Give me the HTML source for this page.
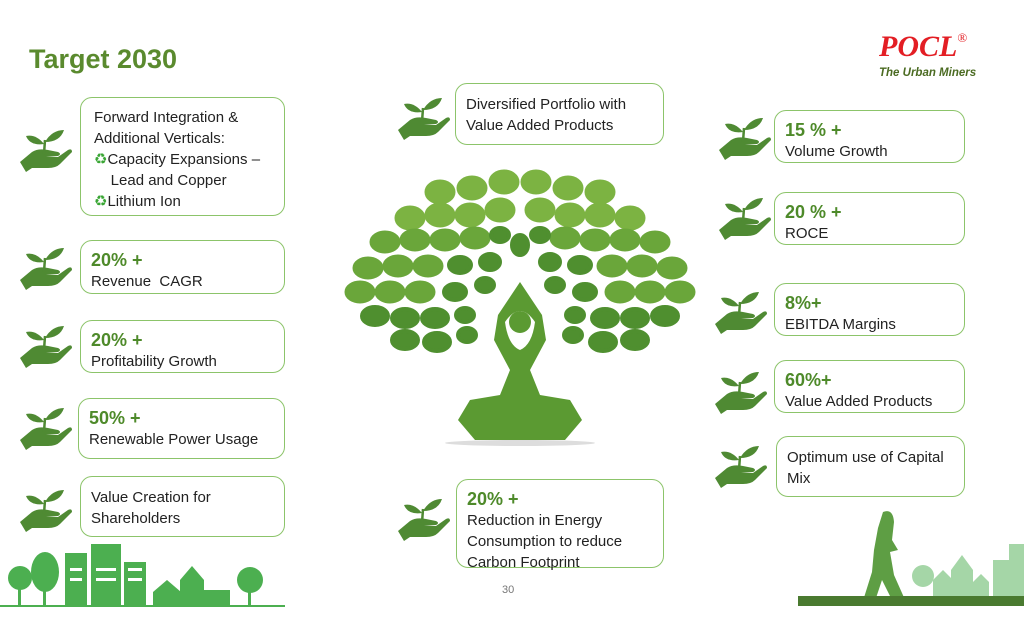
<!DOCTYPE html>
<html><head><meta charset="utf-8"><style>
body{margin:0;width:1024px;height:625px;background:#fff;position:relative;overflow:hidden;font-family:"Liberation Sans",sans-serif;}
.box{position:absolute;border:1.5px solid #8cc46a;border-radius:12px;background:#fff;box-sizing:border-box;font-size:15px;color:#222;line-height:21px;padding:8px 10px;}
.v{color:#4e8a2a;font-weight:bold;font-size:18px;line-height:22px;}
.ic{position:absolute;width:54px;height:44px;}
.r{color:#3aa635;}
</style></head><body>
<svg width="0" height="0" style="position:absolute"><defs>
<g id="hand">
<path d="M2 34 L14 24 Q20 20 30 22 L40 24 Q44 26 40 28 L28 28 L40 29 L50 22 Q54 20 54 24 L42 36 Q38 40 30 40 L14 40 L8 44 Z" fill="#4f8a33"/>
<path d="M26 26 L27 12" stroke="#4f8a33" stroke-width="2.5" fill="none"/>
<path d="M27 14 Q34 2 46 2 Q42 14 27 14Z" fill="#4f8a33"/>
<path d="M26 16 Q18 6 8 8 Q12 18 26 16Z" fill="#4f8a33"/>
</g></defs></svg>

<div style="position:absolute;left:29px;top:44px;font-size:27px;font-weight:bold;color:#5a8a2e;">Target 2030</div>
<div style="position:absolute;left:879px;top:30px;font-family:'Liberation Serif',serif;font-style:italic;font-weight:bold;font-size:30px;color:#e31e24;">POCL<sup style="font-size:13px;font-style:normal;font-weight:normal;vertical-align:14px">®</sup></div>
<div style="position:absolute;left:879px;top:67px;font-size:11.5px;font-style:italic;font-weight:bold;color:#4b6b22;">The Urban Miners</div>

<svg class="ic" style="left:18px;top:128px"><use href="#hand"/></svg>
<svg class="ic" style="left:18px;top:246px"><use href="#hand"/></svg>
<svg class="ic" style="left:18px;top:324px"><use href="#hand"/></svg>
<svg class="ic" style="left:18px;top:406px"><use href="#hand"/></svg>
<svg class="ic" style="left:18px;top:488px"><use href="#hand"/></svg>
<svg class="ic" style="left:396px;top:96px"><use href="#hand"/></svg>
<svg class="ic" style="left:396px;top:497px"><use href="#hand"/></svg>
<svg class="ic" style="left:717px;top:116px"><use href="#hand"/></svg>
<svg class="ic" style="left:717px;top:196px"><use href="#hand"/></svg>
<svg class="ic" style="left:713px;top:290px"><use href="#hand"/></svg>
<svg class="ic" style="left:713px;top:370px"><use href="#hand"/></svg>
<svg class="ic" style="left:713px;top:444px"><use href="#hand"/></svg>

<div class="box" style="left:80px;top:97px;width:205px;height:119px;padding:9px 13px;">Forward Integration &amp;<br>Additional Verticals:<br><span class="r">♻</span>Capacity Expansions –<br>&nbsp;&nbsp;&nbsp;&nbsp;Lead and Copper<br><span class="r">♻</span>Lithium Ion</div>
<div class="box" style="left:80px;top:240px;width:205px;height:54px;"><div class="v">20% +</div>Revenue&nbsp; CAGR</div>
<div class="box" style="left:80px;top:320px;width:205px;height:53px;"><div class="v">20% +</div>Profitability Growth</div>
<div class="box" style="left:78px;top:398px;width:207px;height:61px;"><div class="v">50% +</div>Renewable Power Usage</div>
<div class="box" style="left:80px;top:476px;width:205px;height:61px;padding:10px;">Value Creation for<br>Shareholders</div>
<div class="box" style="left:455px;top:83px;width:209px;height:62px;padding:10px;">Diversified Portfolio with<br>Value Added Products</div>
<div class="box" style="left:456px;top:479px;width:208px;height:89px;"><div class="v">20% +</div>Reduction in Energy<br>Consumption to reduce<br>Carbon Footprint</div>
<div class="box" style="left:774px;top:110px;width:191px;height:53px;"><div class="v">15 % +</div>Volume Growth</div>
<div class="box" style="left:774px;top:192px;width:191px;height:53px;"><div class="v">20 % +</div>ROCE</div>
<div class="box" style="left:774px;top:283px;width:191px;height:53px;"><div class="v">8%+</div>EBITDA Margins</div>
<div class="box" style="left:774px;top:360px;width:191px;height:53px;"><div class="v">60%+</div>Value Added Products</div>
<div class="box" style="left:776px;top:436px;width:189px;height:61px;padding:10px;">Optimum use of Capital<br>Mix</div>

<svg style="position:absolute;left:340px;top:160px" width="360" height="300" viewBox="340 160 360 300">
<g fill="#7cb342" stroke="#7cb342" stroke-width="5">
<ellipse cx="440" cy="192" rx="13" ry="10"/><ellipse cx="472" cy="188" rx="13" ry="10"/><ellipse cx="504" cy="182" rx="13" ry="10"/><ellipse cx="536" cy="182" rx="13" ry="10"/><ellipse cx="568" cy="188" rx="13" ry="10"/><ellipse cx="600" cy="192" rx="13" ry="10"/>
<ellipse cx="410" cy="218" rx="13" ry="10"/><ellipse cx="440" cy="215" rx="13" ry="10"/><ellipse cx="470" cy="215" rx="13" ry="10"/><ellipse cx="500" cy="210" rx="13" ry="10"/><ellipse cx="540" cy="210" rx="13" ry="10"/><ellipse cx="570" cy="215" rx="13" ry="10"/><ellipse cx="600" cy="215" rx="13" ry="10"/><ellipse cx="630" cy="218" rx="13" ry="10"/>
</g>
<g fill="#6aa63a" stroke="#6aa63a" stroke-width="5">
<ellipse cx="385" cy="242" rx="13" ry="9"/><ellipse cx="415" cy="240" rx="13" ry="9"/><ellipse cx="445" cy="240" rx="13" ry="9"/><ellipse cx="475" cy="238" rx="13" ry="9"/><ellipse cx="565" cy="238" rx="13" ry="9"/><ellipse cx="595" cy="240" rx="13" ry="9"/><ellipse cx="625" cy="240" rx="13" ry="9"/><ellipse cx="655" cy="242" rx="13" ry="9"/>
<ellipse cx="368" cy="268" rx="13" ry="9"/><ellipse cx="398" cy="266" rx="13" ry="9"/><ellipse cx="428" cy="266" rx="13" ry="9"/><ellipse cx="612" cy="266" rx="13" ry="9"/><ellipse cx="642" cy="266" rx="13" ry="9"/><ellipse cx="672" cy="268" rx="13" ry="9"/>
<ellipse cx="360" cy="292" rx="13" ry="9"/><ellipse cx="390" cy="292" rx="13" ry="9"/><ellipse cx="420" cy="292" rx="13" ry="9"/><ellipse cx="620" cy="292" rx="13" ry="9"/><ellipse cx="650" cy="292" rx="13" ry="9"/><ellipse cx="680" cy="292" rx="13" ry="9"/>
</g>
<g fill="#4f8f2f" stroke="#4f8f2f" stroke-width="4">
<ellipse cx="375" cy="316" rx="13" ry="9"/><ellipse cx="405" cy="318" rx="13" ry="9"/><ellipse cx="435" cy="318" rx="13" ry="9"/><ellipse cx="605" cy="318" rx="13" ry="9"/><ellipse cx="635" cy="318" rx="13" ry="9"/><ellipse cx="665" cy="316" rx="13" ry="9"/>
<ellipse cx="405" cy="340" rx="13" ry="9"/><ellipse cx="437" cy="342" rx="13" ry="9"/><ellipse cx="467" cy="335" rx="9" ry="7"/><ellipse cx="573" cy="335" rx="9" ry="7"/><ellipse cx="603" cy="342" rx="13" ry="9"/><ellipse cx="635" cy="340" rx="13" ry="9"/>
<ellipse cx="460" cy="265" rx="11" ry="8"/><ellipse cx="490" cy="262" rx="10" ry="8"/><ellipse cx="520" cy="245" rx="8" ry="10"/><ellipse cx="550" cy="262" rx="10" ry="8"/><ellipse cx="580" cy="265" rx="11" ry="8"/>
<ellipse cx="455" cy="292" rx="11" ry="8"/><ellipse cx="485" cy="285" rx="9" ry="7"/><ellipse cx="555" cy="285" rx="9" ry="7"/><ellipse cx="585" cy="292" rx="11" ry="8"/>
<ellipse cx="465" cy="315" rx="9" ry="7"/><ellipse cx="575" cy="315" rx="9" ry="7"/><ellipse cx="500" cy="235" rx="9" ry="7"/><ellipse cx="540" cy="235" rx="9" ry="7"/>
</g>
<path d="M520 282 L498 315 L494 340 L510 370 L500 395 L470 400 L458 420 L475 440 L565 440 L582 420 L570 400 L540 395 L530 370 L546 340 L542 315 Z" fill="#5b9a32"/>
<path d="M505 322 Q520 300 535 322 Q532 345 520 350 Q508 345 505 322Z" fill="#fff"/>
<circle cx="520" cy="322" r="11" fill="#5b9a32"/>
<ellipse cx="520" cy="443" rx="75" ry="3" fill="#ddd"/>
</svg>

<svg style="position:absolute;left:0;top:540px" width="290" height="70">
<g fill="#4caf50">
<circle cx="20" cy="38" r="12"/><rect x="18" y="40" width="3" height="25"/>
<ellipse cx="45" cy="32" rx="14" ry="20"/><rect x="43" y="40" width="3" height="25"/>
<rect x="65" y="13" width="22" height="53"/><rect x="91" y="4" width="30" height="62"/><rect x="124" y="22" width="22" height="44"/>
<path d="M153 52 L167 40 L181 52 L181 66 L153 66Z"/><path d="M180 40 L192 26 L204 40 L204 66 L180 66Z"/><path d="M204 50 L230 50 L230 66 L204 66Z"/>
<circle cx="250" cy="40" r="13"/><rect x="248" y="45" width="3" height="20"/>
<rect x="0" y="65" width="285" height="2"/>
</g>
<g fill="#fff"><rect x="70" y="28" width="12" height="3"/><rect x="96" y="28" width="20" height="3"/><rect x="128" y="28" width="14" height="3"/><rect x="70" y="38" width="12" height="3"/><rect x="96" y="38" width="20" height="3"/><rect x="128" y="38" width="14" height="3"/></g>
</svg>

<svg style="position:absolute;left:798px;top:500px" width="226" height="110">
<g fill="#a5d6a7"><circle cx="125" cy="76" r="11"/><path d="M135 80 L145 70 L155 80 L155 97 L135 97Z"/><path d="M153 70 L164 55 L175 70 L175 97 L153 97Z"/><path d="M175 82 L183 74 L191 82 L191 97 L175 97Z"/><rect x="195" y="60" width="16" height="37"/><rect x="211" y="44" width="20" height="53"/></g>
<path d="M85 12 Q95 8 96 22 L94 40 L100 50 L92 52 L96 75 L108 102 L96 104 L84 80 L76 104 L64 104 L74 72 L76 50 L80 28Z" fill="#5e9e44"/>
<rect x="0" y="96" width="226" height="10" fill="#4a7a30"/>
</svg>

<div style="position:absolute;left:502px;top:584px;font-size:11px;color:#777;">30</div>
</body></html>
